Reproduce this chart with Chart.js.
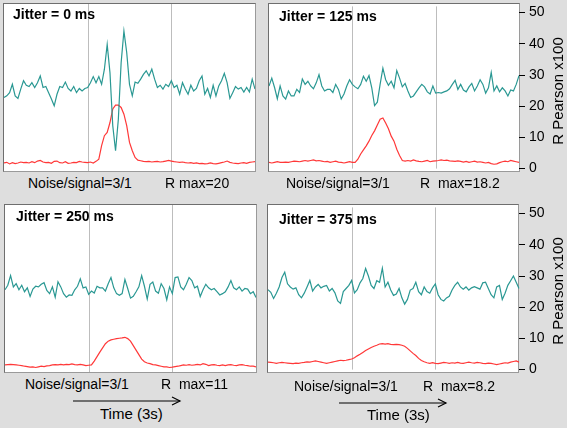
<!DOCTYPE html>
<html>
<head>
<meta charset="utf-8">
<script src="https://cdn.jsdelivr.net/npm/chart.js@4.4.1/dist/chart.umd.min.js"></script>
<style>
  html, body { margin: 0; padding: 0; }
  body { width: 567px; height: 428px; background: #dedede; position: relative; overflow: hidden;
         font-family: "Liberation Sans", Arial, sans-serif; color: #000; }
  .box { position: absolute; background: #fff; box-sizing: border-box;
         border: 1px solid #9a9a9a; border-top-color: #6e6e6e; border-left-color: #6e6e6e; }
  canvas { position: absolute; }
  .lbl { position: absolute; font-size: 14px; line-height: 16px; white-space: pre; }
  .jit { font-weight: bold; }
  .time { font-size: 15px; line-height: 17px; }
  .ytitle { position: absolute; font-size: 15px; line-height: 17px; white-space: nowrap;
            transform: translate(-50%, -50%) rotate(-90deg); }
  svg { position: absolute; left: 0; top: 0; }
</style>
</head>
<body>
<div class="box" style="left:3px;top:3px;width:253px;height:169px"></div>
<div class="box" style="left:268px;top:3px;width:252px;height:169px"></div>
<div class="box" style="left:4px;top:204px;width:253px;height:169px"></div>
<div class="box" style="left:267px;top:204px;width:252px;height:169px"></div>

<canvas id="p1" width="251" height="167" style="left:4px;top:4px"></canvas>
<canvas id="p2" width="298" height="187" style="left:269px;top:-6px"></canvas>
<canvas id="p3" width="251" height="167" style="left:5px;top:205px"></canvas>
<canvas id="p4" width="299" height="187" style="left:268px;top:195px"></canvas>

<div class="lbl jit" style="left:13px;top:6px">Jitter = 0 ms</div>
<div class="lbl jit" style="left:279px;top:8px">Jitter = 125 ms</div>
<div class="lbl jit" style="left:16px;top:208px">Jitter = 250 ms</div>
<div class="lbl jit" style="left:279px;top:211px">Jitter = 375 ms</div>

<div class="lbl" style="left:28px;top:175px">Noise/signal=3/1</div>
<div class="lbl" style="left:165px;top:175px">R max=20</div>
<div class="lbl" style="left:286px;top:175px">Noise/signal=3/1</div>
<div class="lbl" style="left:420px;top:175px">R  max=18.2</div>
<div class="lbl" style="left:25px;top:376px">Noise/signal=3/1</div>
<div class="lbl" style="left:161px;top:376px">R  max=11</div>
<div class="lbl" style="left:294px;top:378px">Noise/signal=3/1</div>
<div class="lbl" style="left:423px;top:378px">R  max=8.2</div>

<div class="lbl time" style="left:100px;top:405px">Time (3s)</div>
<div class="lbl time" style="left:367px;top:406px">Time (3s)</div>

<div class="ytitle" style="left:557px;top:91px">R Pearson x100</div>
<div class="ytitle" style="left:557px;top:291px">R Pearson x100</div>

<svg width="567" height="428">
  <g stroke="#000" stroke-width="1.2" fill="none">
    <line x1="73" y1="401" x2="180" y2="401"/>
    <polyline points="172,397 180,401 172,405"/>
    <line x1="339" y1="403" x2="446" y2="403"/>
    <polyline points="438,399 446,403 438,407"/>
  </g>
</svg>

<script>
// 91 samples across the 3 s window, grid lines at 1 s and 2 s
const samples = [...Array(91).keys()];
const timeGrid = [30, 60];
const yTicks = [0, 10, 20, 30, 40, 50];

// correlation trace (teal) and synchrony trace (red), R Pearson x100
const jit0Corr = [22.9,23.4,24.4,27.0,23.4,22.6,25.5,28.1,26.7,26.3,
  27.5,26.0,27.5,29.6,26.0,26.3,24.4,22.4,20.3,23.9,
  26.3,26.0,27.7,25.7,24.9,26.3,24.4,25.7,24.9,25.7,
  26.0,27.5,29.4,27.5,29.4,27.0,31.7,39.4,30.6,14.1,
  6.3,16.1,33.7,43.6,36.9,27.0,23.4,27.7,27.3,28.6,
  30.1,31.2,29.6,31.7,28.6,26.0,26.7,25.5,27.0,26.3,
  28.1,26.0,26.7,23.9,27.5,25.5,23.9,26.7,24.9,25.7,
  28.1,29.6,23.9,25.7,22.9,26.7,23.4,26.5,28.1,30.4,
  27.5,22.6,24.4,26.3,25.5,26.0,24.6,26.0,24.6,28.6,
  25.5];
const jit0Sync = [2.5,2.7,2.2,2.6,2.3,2.5,2.8,2.6,2.7,2.5,
  2.9,2.6,3.1,3.3,2.8,2.6,2.7,2.4,3.0,3.1,
  2.6,2.5,2.9,2.4,2.5,2.7,2.6,3.0,2.8,2.7,
  2.6,2.8,2.5,3.0,3.7,7.9,11.0,12.0,15.1,19.3,
  20.5,20.5,19.8,17.7,14.1,8.9,6.3,4.2,3.4,3.2,
  3.0,2.9,3.0,2.8,2.9,3.0,2.8,2.9,3.1,3.3,
  3.1,2.9,2.8,2.7,2.8,2.6,2.5,2.6,2.4,2.5,
  2.3,2.4,2.2,2.3,2.5,2.3,2.2,2.4,2.6,2.8,
  3.1,2.7,2.5,2.4,2.3,2.5,2.6,2.4,2.7,2.8,
  2.9];

const jit125Corr = [26.5,29.0,26.0,22.4,26.5,23.3,22.3,24.9,23.3,23.3,
  25.4,24.4,28.7,27.0,28.0,26.5,25.6,27.5,30.1,26.5,
  24.9,25.4,25.4,24.4,27.0,25.4,22.3,23.9,26.5,28.5,
  27.0,26.2,25.6,27.0,29.6,28.0,29.8,25.9,20.2,21.3,
  27.0,32.2,28.5,26.7,28.0,25.9,31.4,29.0,26.2,27.3,
  24.9,22.8,23.3,24.6,25.9,27.0,26.2,24.6,23.9,26.5,
  24.2,24.4,24.2,24.6,24.9,25.6,27.0,28.3,25.4,27.0,
  25.2,24.6,26.2,27.3,24.9,26.5,28.5,27.0,24.2,25.9,
  30.8,24.9,26.5,24.6,25.9,24.9,23.3,25.2,24.9,27.0,
  29.8];
const jit125Sync = [2.0,1.8,2.0,2.2,2.0,2.0,2.1,2.0,2.2,2.4,
  2.3,2.2,2.4,2.6,2.4,2.6,2.8,2.5,2.6,2.4,
  2.2,2.3,2.0,2.2,2.4,2.1,2.0,1.8,2.0,2.2,
  2.0,2.0,3.0,4.7,6.0,7.3,8.8,10.6,12.1,14.0,
  15.8,16.2,14.6,12.8,10.4,8.8,6.2,4.2,2.6,2.4,
  2.6,2.4,2.8,2.5,2.3,2.2,2.4,2.6,2.2,2.4,
  2.5,2.6,2.8,2.6,2.7,2.5,2.4,2.3,2.5,2.3,
  2.1,2.3,2.0,2.2,2.4,2.1,2.2,2.0,1.8,2.0,
  1.6,1.4,1.5,1.9,2.2,2.4,2.2,2.6,2.4,2.2,
  2.0];

const jit250Corr = [25.6,27.0,30.0,26.5,27.5,25.6,27.0,25.0,26.2,23.5,
  25.8,26.7,26.5,27.3,27.8,25.4,24.4,26.5,23.3,28.1,
  26.5,24.4,23.3,24.0,23.9,25.6,26.7,29.0,26.2,26.5,
  24.2,25.2,24.6,26.7,26.2,26.2,25.2,27.5,29.4,26.2,
  24.4,23.9,24.4,28.8,26.0,23.0,23.6,25.0,26.5,30.0,
  26.7,22.7,27.3,28.0,25.2,24.5,27.5,26.0,22.5,26.5,
  24.4,29.4,29.6,26.5,25.6,27.3,29.4,28.5,26.2,26.7,
  23.5,25.6,27.3,26.2,25.6,26.0,25.0,24.0,24.4,25.0,
  26.5,28.5,26.2,25.6,26.5,25.2,26.0,25.8,24.4,25.0,
  23.2];
const jit250Sync = [2.2,2.3,2.4,2.3,2.2,2.1,2.0,1.8,1.7,1.5,
  1.6,1.4,1.6,1.8,1.7,1.9,2.0,2.2,2.3,2.2,
  2.4,2.2,2.4,2.3,2.5,2.3,2.2,2.4,2.2,2.0,
  2.1,2.2,3.4,4.8,6.2,7.5,8.8,9.6,10.0,10.2,
  10.4,10.5,10.6,10.8,10.4,9.6,8.2,6.8,5.4,4.0,
  3.2,2.8,2.6,2.3,2.2,2.0,1.8,1.6,1.6,1.4,
  1.5,1.7,1.8,2.0,2.2,2.1,2.3,2.1,2.2,2.4,
  2.2,2.6,2.4,2.0,2.2,2.3,2.1,2.0,2.2,2.0,
  2.2,2.3,2.1,2.0,2.2,2.3,2.1,2.0,1.8,1.8,
  1.6];

const jit375Corr = [25.6,24.8,22.8,24.5,26.5,29.5,31.2,27.5,26.5,25.8,
  26.2,24.0,23.0,24.5,26.5,28.6,25.2,26.5,27.3,26.2,
  26.7,27.0,25.2,26.0,24.6,22.0,21.2,25.0,26.0,27.0,
  28.6,24.6,25.6,27.8,29.2,32.4,30.0,27.0,26.0,28.5,
  28.0,32.5,26.5,28.0,25.5,23.8,24.2,26.0,23.0,21.0,
  22.5,25.5,26.0,28.0,25.0,24.0,26.5,25.0,24.5,26.2,
  27.5,24.0,22.5,22.0,23.0,23.5,25.5,27.0,28.0,26.5,
  25.8,26.5,25.5,26.2,26.6,26.2,25.8,27.8,28.0,26.0,
  24.0,23.0,26.5,27.0,22.5,24.5,27.0,28.5,30.0,28.0,
  26.0];
const jit375Sync = [2.4,2.3,2.2,2.0,2.2,2.3,2.2,2.1,2.0,1.9,
  2.1,2.0,2.2,2.3,2.5,2.4,2.6,2.8,2.6,2.4,
  2.2,2.0,2.2,2.4,2.6,2.8,3.0,2.9,3.0,3.2,
  3.4,3.8,4.4,4.9,5.5,6.1,6.6,7.1,7.5,7.8,
  8.2,8.3,8.2,8.3,8.1,8.0,8.1,8.0,7.8,7.5,
  6.8,6.0,5.2,4.5,3.6,2.9,2.5,2.2,2.0,2.2,
  2.0,1.9,2.1,2.3,2.2,2.0,2.2,2.1,2.3,2.1,
  2.0,2.2,2.4,2.2,2.1,2.3,2.2,2.0,1.9,2.1,
  2.0,1.8,1.6,1.8,2.0,2.2,2.1,2.4,2.6,2.8,
  2.4];

const TEAL = '#2a9893';
const RED = '#ff3838';

const timeLines = {
  id: 'timeLines',
  beforeDatasetsDraw(chart) {
    const { ctx, chartArea: a, scales: { x } } = chart;
    ctx.save();
    ctx.strokeStyle = '#bdbdbd';
    ctx.lineWidth = 1;
    timeGrid.forEach(t => {
      const px = Math.round(x.getPixelForValue(t)) + 0.5;
      ctx.beginPath();
      ctx.moveTo(px, a.top);
      ctx.lineTo(px, a.bottom);
      ctx.stroke();
    });
    ctx.restore();
  },
};

function panel(id, corr, sync, withAxis) {
  const y = withAxis ? {
    position: 'right', min: 0, max: 52,
    afterBuildTicks: s => { s.ticks = yTicks.map(v => ({ value: v })); },
    afterFit: s => { s.width = 48; },
    border: { display: false },
    grid: { drawOnChartArea: false, drawTicks: true, tickLength: 6, color: '#000' },
    ticks: { padding: 4, color: '#000', font: { family: 'Liberation Sans, Arial', size: 14 } },
  } : { display: false, min: 0, max: 52 };

  new Chart(document.getElementById(id), {
    type: 'line',
    data: {
      labels: samples,
      datasets: [
        { data: corr, borderColor: TEAL, borderWidth: 1.2 },
        { data: sync, borderColor: RED, borderWidth: 1.2 },
      ],
    },
    options: {
      responsive: false,
      animation: false,
      layout: { padding: withAxis ? { top: 10, bottom: 10 } : 0 },
      elements: { point: { radius: 0 }, line: { tension: 0 } },
      plugins: { legend: { display: false }, tooltip: { enabled: false } },
      scales: { x: { display: false }, y },
    },
    plugins: [timeLines],
  });
}

panel('p1', jit0Corr, jit0Sync, false);
panel('p2', jit125Corr, jit125Sync, true);
panel('p3', jit250Corr, jit250Sync, false);
panel('p4', jit375Corr, jit375Sync, true);
</script>
</body>
</html>
